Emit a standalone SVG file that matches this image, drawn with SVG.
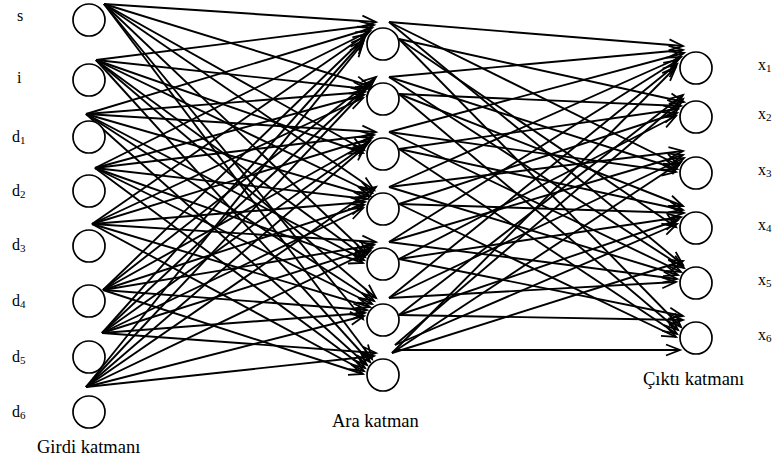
<svg xmlns="http://www.w3.org/2000/svg" width="776" height="461" viewBox="0 0 776 461">
<style>
.n{fill:#fff;stroke:#000;stroke-width:1.7}
.c line{stroke:#000;stroke-width:1.9;marker-end:url(#a)}
text{font-family:"Liberation Serif","Times New Roman",serif;fill:#000}
.lb{font-size:16px}
.lt{font-size:18.5px}
.sb{font-size:11px}
</style>
<defs>
<marker id="a" viewBox="0 0 14 11" refX="14" refY="5.5" markerWidth="14" markerHeight="11" markerUnits="userSpaceOnUse" orient="auto" overflow="visible">
<path d="M0,0 L14,5.5 L0,11" fill="none" stroke="#000" stroke-width="1.8"/>
</marker>
</defs>
<rect width="776" height="461" fill="#fff"/>
<g id="connectors" class="c">
<line x1="104" y1="4" x2="376" y2="22"/>
<line x1="96" y1="60" x2="374" y2="25"/>
<line x1="86" y1="114" x2="372" y2="28"/>
<line x1="95" y1="168" x2="370" y2="31"/>
<line x1="92" y1="224" x2="367" y2="34"/>
<line x1="103" y1="290" x2="365" y2="37"/>
<line x1="102" y1="333" x2="364" y2="40"/>
<line x1="86" y1="387" x2="363" y2="43"/>
<line x1="104" y1="4" x2="370" y2="86"/>
<line x1="96" y1="60" x2="367" y2="89"/>
<line x1="86" y1="114" x2="365" y2="92"/>
<line x1="95" y1="168" x2="364" y2="95"/>
<line x1="92" y1="224" x2="363" y2="98"/>
<line x1="103" y1="290" x2="376" y2="77"/>
<line x1="102" y1="333" x2="374" y2="80"/>
<line x1="86" y1="387" x2="372" y2="83"/>
<line x1="104" y1="4" x2="364" y2="150"/>
<line x1="96" y1="60" x2="363" y2="153"/>
<line x1="86" y1="114" x2="376" y2="132"/>
<line x1="95" y1="168" x2="374" y2="135"/>
<line x1="92" y1="224" x2="372" y2="138"/>
<line x1="103" y1="290" x2="370" y2="141"/>
<line x1="102" y1="333" x2="367" y2="144"/>
<line x1="86" y1="387" x2="365" y2="147"/>
<line x1="104" y1="4" x2="374" y2="190"/>
<line x1="96" y1="60" x2="372" y2="193"/>
<line x1="86" y1="114" x2="370" y2="196"/>
<line x1="95" y1="168" x2="367" y2="199"/>
<line x1="92" y1="224" x2="365" y2="202"/>
<line x1="103" y1="290" x2="364" y2="205"/>
<line x1="102" y1="333" x2="363" y2="208"/>
<line x1="86" y1="387" x2="376" y2="187"/>
<line x1="104" y1="4" x2="367" y2="254"/>
<line x1="96" y1="60" x2="365" y2="257"/>
<line x1="86" y1="114" x2="364" y2="260"/>
<line x1="95" y1="168" x2="363" y2="263"/>
<line x1="92" y1="224" x2="376" y2="242"/>
<line x1="103" y1="290" x2="374" y2="245"/>
<line x1="102" y1="333" x2="372" y2="248"/>
<line x1="86" y1="387" x2="370" y2="251"/>
<line x1="104" y1="4" x2="363" y2="319"/>
<line x1="96" y1="60" x2="376" y2="298"/>
<line x1="86" y1="114" x2="374" y2="301"/>
<line x1="95" y1="168" x2="372" y2="304"/>
<line x1="92" y1="224" x2="370" y2="307"/>
<line x1="103" y1="290" x2="367" y2="310"/>
<line x1="102" y1="333" x2="365" y2="313"/>
<line x1="86" y1="387" x2="364" y2="316"/>
<line x1="104" y1="4" x2="372" y2="359"/>
<line x1="96" y1="60" x2="370" y2="362"/>
<line x1="86" y1="114" x2="367" y2="365"/>
<line x1="95" y1="168" x2="365" y2="368"/>
<line x1="92" y1="224" x2="364" y2="371"/>
<line x1="103" y1="290" x2="363" y2="374"/>
<line x1="102" y1="333" x2="376" y2="353"/>
<line x1="86" y1="387" x2="374" y2="356"/>
<line x1="389" y1="22" x2="683" y2="46"/>
<line x1="399" y1="39" x2="684" y2="102"/>
<line x1="389" y1="22" x2="678" y2="165"/>
<line x1="399" y1="39" x2="676" y2="227"/>
<line x1="389" y1="22" x2="683" y2="265"/>
<line x1="399" y1="39" x2="681" y2="327"/>
<line x1="389" y1="77" x2="683" y2="50"/>
<line x1="399" y1="94" x2="681" y2="106"/>
<line x1="389" y1="77" x2="677" y2="169"/>
<line x1="399" y1="94" x2="683" y2="206"/>
<line x1="389" y1="77" x2="684" y2="268"/>
<line x1="399" y1="94" x2="678" y2="330"/>
<line x1="389" y1="132" x2="684" y2="53"/>
<line x1="399" y1="149" x2="678" y2="109"/>
<line x1="389" y1="132" x2="676" y2="172"/>
<line x1="399" y1="149" x2="683" y2="210"/>
<line x1="389" y1="132" x2="681" y2="272"/>
<line x1="399" y1="149" x2="677" y2="334"/>
<line x1="389" y1="187" x2="681" y2="57"/>
<line x1="399" y1="204" x2="677" y2="113"/>
<line x1="389" y1="187" x2="683" y2="151"/>
<line x1="399" y1="204" x2="684" y2="213"/>
<line x1="389" y1="187" x2="678" y2="275"/>
<line x1="399" y1="204" x2="676" y2="337"/>
<line x1="389" y1="242" x2="678" y2="60"/>
<line x1="399" y1="259" x2="676" y2="116"/>
<line x1="389" y1="242" x2="683" y2="155"/>
<line x1="399" y1="259" x2="681" y2="217"/>
<line x1="389" y1="242" x2="677" y2="279"/>
<line x1="399" y1="259" x2="683" y2="316"/>
<line x1="389" y1="298" x2="677" y2="64"/>
<line x1="399" y1="315" x2="683" y2="95"/>
<line x1="389" y1="298" x2="684" y2="158"/>
<line x1="399" y1="315" x2="678" y2="220"/>
<line x1="389" y1="298" x2="676" y2="282"/>
<line x1="399" y1="315" x2="683" y2="320"/>
<line x1="392" y1="353" x2="676" y2="67"/>
<line x1="395" y1="345" x2="683" y2="99"/>
<line x1="392" y1="353" x2="681" y2="162"/>
<line x1="395" y1="345" x2="677" y2="224"/>
<line x1="392" y1="353" x2="683" y2="261"/>
<line x1="395" y1="350" x2="680" y2="350"/>
</g>
<g id="in_s"><circle class="n" cx="89" cy="20" r="16"/><text class="lb" x="17" y="21">s</text></g>
<g id="in_i"><circle class="n" cx="89" cy="80" r="16"/><text class="lb" x="17" y="83">i</text></g>
<g id="in_d1"><circle class="n" cx="89" cy="137" r="16"/><text class="lb" x="12" y="142">d<tspan class="sb" dy="2">1</tspan></text></g>
<g id="in_d2"><circle class="n" cx="89" cy="191" r="16"/><text class="lb" x="12" y="196">d<tspan class="sb" dy="2">2</tspan></text></g>
<g id="in_d3"><circle class="n" cx="89" cy="246" r="16"/><text class="lb" x="12" y="250">d<tspan class="sb" dy="2">3</tspan></text></g>
<g id="in_d4"><circle class="n" cx="89" cy="301" r="16"/><text class="lb" x="12" y="306">d<tspan class="sb" dy="2">4</tspan></text></g>
<g id="in_d5"><circle class="n" cx="89" cy="357" r="16"/><text class="lb" x="12" y="362">d<tspan class="sb" dy="2">5</tspan></text></g>
<g id="in_d6"><circle class="n" cx="89" cy="412" r="16"/><text class="lb" x="12" y="417">d<tspan class="sb" dy="2">6</tspan></text></g>
<g id="h1"><circle class="n" cx="383" cy="44" r="16"/></g>
<g id="h2"><circle class="n" cx="383" cy="99" r="16"/></g>
<g id="h3"><circle class="n" cx="383" cy="154" r="16"/></g>
<g id="h4"><circle class="n" cx="383" cy="209" r="16"/></g>
<g id="h5"><circle class="n" cx="383" cy="264" r="16"/></g>
<g id="h6"><circle class="n" cx="383" cy="320" r="16"/></g>
<g id="h7"><circle class="n" cx="383" cy="375" r="16"/></g>
<g id="o1"><circle class="n" cx="696" cy="68" r="16"/><text class="lb" x="758" y="70">x<tspan class="sb" dy="2">1</tspan></text></g>
<g id="o2"><circle class="n" cx="696" cy="117" r="16"/><text class="lb" x="758" y="119">x<tspan class="sb" dy="2">2</tspan></text></g>
<g id="o3"><circle class="n" cx="696" cy="173" r="16"/><text class="lb" x="758" y="175">x<tspan class="sb" dy="2">3</tspan></text></g>
<g id="o4"><circle class="n" cx="696" cy="228" r="16"/><text class="lb" x="758" y="230">x<tspan class="sb" dy="2">4</tspan></text></g>
<g id="o5"><circle class="n" cx="696" cy="283" r="16"/><text class="lb" x="758" y="285">x<tspan class="sb" dy="2">5</tspan></text></g>
<g id="o6"><circle class="n" cx="696" cy="338" r="16"/><text class="lb" x="758" y="340">x<tspan class="sb" dy="2">6</tspan></text></g>
<g id="layer_labels">
<text class="lt" x="37" y="453">Girdi katmanı</text>
<text class="lt" x="332" y="427">Ara katman</text>
<text class="lt" x="643" y="385">Çıktı katmanı</text>
</g>
</svg>
